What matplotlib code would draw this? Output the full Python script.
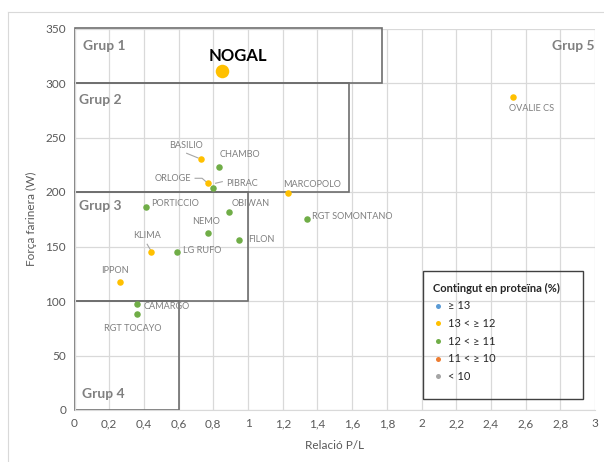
import matplotlib
matplotlib.use("Agg")
import matplotlib.pyplot as plt
from matplotlib.patches import Rectangle
from matplotlib.lines import Line2D

plt.rcParams['font.family'] = ['Lato', 'DejaVu Sans']

# ---- data ----
varieties = ["NOGAL", "OVALIE CS", "BASILIO", "CHAMBO", "ORLOGE", "PIBRAC",
             "MARCOPOLO", "PORTICCIO", "OBIWAN", "RGT SOMONTANO", "NEMO",
             "FILON", "KLIMA", "LG RUFO", "IPPON", "CAMARGO", "RGT TOCAYO"]
pl_ratio = [0.85, 2.53, 0.73, 0.83, 0.77, 0.80, 1.23, 0.41, 0.89, 1.34,
            0.77, 0.95, 0.44, 0.59, 0.26, 0.36, 0.36]
strength_w = [311, 287, 230, 223, 208, 204, 199, 186, 182, 175, 162, 156,
              145, 145, 117, 97, 88]
protein_class = ["13 < ≥ 12", "13 < ≥ 12", "13 < ≥ 12", "12 < ≥ 11",
                 "13 < ≥ 12", "12 < ≥ 11", "13 < ≥ 12", "12 < ≥ 11",
                 "12 < ≥ 11", "12 < ≥ 11", "12 < ≥ 11", "12 < ≥ 11",
                 "13 < ≥ 12", "12 < ≥ 11", "13 < ≥ 12", "12 < ≥ 11",
                 "12 < ≥ 11"]
legend_classes = ["≥ 13", "13 < ≥ 12", "12 < ≥ 11", "11 < ≥ 10", "< 10"]
class_colors = ["#5B9BD5", "#FFC000", "#70AD47", "#ED7D31", "#A5A5A5"]

# quality groups: (name, x_max, y_min, y_max)
group_names = ["Grup 1", "Grup 2", "Grup 3", "Grup 4"]
group_xmax = [1.775, 1.58, 1.0, 0.6]
group_ymin = [300, 200, 100, 0]
group_ymax = [350, 300, 200, 100]

# ---- label placement (offsets in pixels, horizontal alignment) ----
label_style = {
    "NOGAL": (16, 15, "center"),
    "OVALIE CS": (18, -11, "center"),
    "BASILIO": (-15, 14, "center"),
    "CHAMBO": (1.5, 12, "left"),
    "ORLOGE": (-17, 5, "right"),
    "PIBRAC": (13, 4, "left"),
    "MARCOPOLO": (-4.6, 9, "left"),
    "PORTICCIO": (5.7, 4, "left"),
    "OBIWAN": (2.4, 8.3, "left"),
    "RGT SOMONTANO": (4.7, 2.6, "left"),
    "NEMO": (-2.4, 12, "center"),
    "FILON": (9, 0, "left"),
    "KLIMA": (-4, 16, "center"),
    "LG RUFO": (5.7, 1, "left"),
    "IPPON": (-4.5, 12.3, "center"),
    "CAMARGO": (6.4, -2.7, "left"),
    "RGT TOCAYO": (-4.5, -14.4, "center"),
}

W, H = 604, 462
fig = plt.figure(figsize=(W / 100, H / 100), dpi=100)
ax = fig.add_axes([74.5 / W, 1 - 410 / H, (595 - 74.5) / W, (410 - 28.5) / H])

ax.set_xlim(0, 3)
ax.set_ylim(0, 350)
xt = [i * 0.2 for i in range(16)]
ax.set_xticks(xt)
ax.set_xticklabels([("%g" % round(v, 1)).replace(".", ",") for v in xt])
ax.set_yticks(range(0, 351, 50))
ax.grid(True, color="#D9D9D9", linewidth=0.9)
ax.set_axisbelow(True)
for s in ["top", "right"]:
    ax.spines[s].set_visible(False)
ax.spines["left"].set_color("#D9D9D9")
ax.spines["bottom"].set_color("#D9D9D9")
ax.tick_params(length=0, colors="#595959", labelsize=8.5, pad=6)
ax.set_xlabel("Relació P/L", color="#595959", fontsize=8.5, labelpad=8)
ax.set_ylabel("Força farinera (W)", color="#595959", fontsize=8.5, labelpad=6)

# group rectangles
for name, xm, y0, y1 in zip(group_names, group_xmax, group_ymin, group_ymax):
    ax.add_patch(Rectangle((0, y0), xm, y1 - y0, fill=False,
                           edgecolor="#6E6E6E", linewidth=1.2, zorder=2,
                           clip_on=False))

# group labels
grp_txt = dict(color="#808080", fontsize=10, fontweight="bold", va="center")
ax.annotate("Grup 1", (0, 350), xytext=(8.5, -17), textcoords="offset pixels", ha="left", **grp_txt)
ax.annotate("Grup 2", (0, 300), xytext=(4.5, -17), textcoords="offset pixels", ha="left", **grp_txt)
ax.annotate("Grup 3", (0, 200), xytext=(4.5, -13.5), textcoords="offset pixels", ha="left", **grp_txt)
ax.annotate("Grup 4", (0, 0), xytext=(7, 15.5), textcoords="offset pixels", ha="left", **grp_txt)
ax.annotate("Grup 5", (3, 350), xytext=(-43, -17.5), textcoords="offset pixels", ha="left", **grp_txt)

# points
cmap = dict(zip(legend_classes, class_colors))
for name, x, y, c in zip(varieties, pl_ratio, strength_w, protein_class):
    size = 95 if name == "NOGAL" else 22
    ax.scatter([x], [y], s=size, color=cmap[c], zorder=4, linewidths=0)
    dx, dy, ha = label_style[name]
    if name == "NOGAL":
        ax.annotate(name, (x, y), xytext=(dx, dy), textcoords="offset pixels",
                    ha=ha, va="center", fontsize=12, fontweight="bold",
                    color="black", zorder=5)
    else:
        ax.annotate(name, (x, y), xytext=(dx, dy), textcoords="offset pixels",
                    ha=ha, va="center", fontsize=6.6, color="#7F7F7F", zorder=5)

# leader lines (pixel offsets from points)
def leader(name, pts):
    i = varieties.index(name)
    x, y = pl_ratio[i], strength_w[i]
    px, py = ax.transData.transform((x, y))
    xs, ys = [], []
    for ox, oy in pts:
        xd, yd = ax.transData.inverted().transform((px + ox, py + oy))
        xs.append(xd)
        ys.append(yd)
    ax.plot(xs, ys, color="#A6A6A6", linewidth=0.8, zorder=3)

fig.canvas.draw()
leader("BASILIO", [(-14.5, 6), (-3, 1.3)])
leader("ORLOGE", [(-13, 5), (-6, 5), (-2, 1.5)])
leader("PIBRAC", [(2.3, 4.4), (9, 6)])
leader("KLIMA", [(-3.7, 7.7), (-0.3, 2)])

# legend
handles = [Line2D([], [], marker="o", linestyle="none", markersize=3.6,
                  markerfacecolor=c, markeredgewidth=0) for c in class_colors]
leg = ax.legend(handles, legend_classes, title="Contingut en proteïna (%)",
                loc="upper left", bbox_to_anchor=((422.7 - 74.5) / 520.5 + 0.005, (410 - 275) / 381.5),
                frameon=False, fontsize=8, title_fontsize=8,
                handlelength=0.8, handletextpad=0.5, labelspacing=0.6,
                borderpad=0.2)
leg.get_title().set_fontweight("bold")
leg.get_title().set_color("#262626")
leg._legend_box.align = "left"
for t in leg.get_texts():
    t.set_color("#262626")
ax.add_patch(Rectangle(((422.7 - 74.5) / 520.5, (410 - 399) / 381.5),
                       160 / 520.5, 128 / 381.5, transform=ax.transAxes,
                       fill=False, edgecolor="#404040", linewidth=1.0, zorder=6))

# chart area border
fig.add_artist(Line2D([8 / W, 1], [1 - 12 / H] * 2, color="#D9D9D9", linewidth=0.8))
fig.add_artist(Line2D([8 / W] * 2, [0, 1 - 12 / H], color="#D9D9D9", linewidth=0.8))

fig.savefig("out.png", dpi=100)
